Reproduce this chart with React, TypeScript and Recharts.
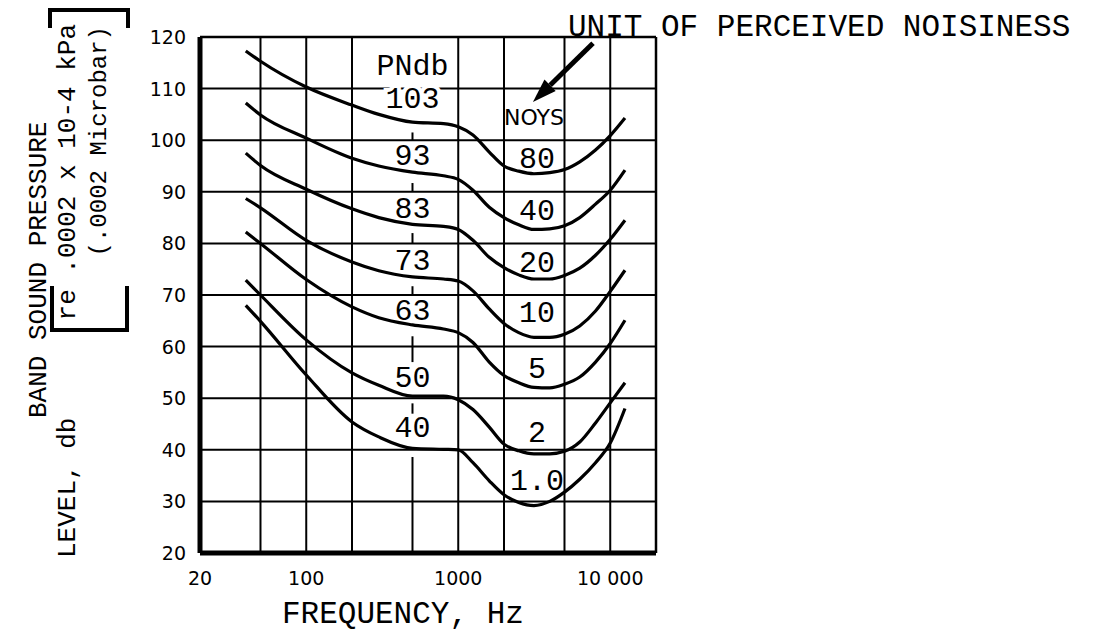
import React from "react";
import { LineChart, Line, XAxis, YAxis, CartesianGrid, ReferenceLine, ReferenceDot } from "recharts";

const FREQS = [40, 50, 100, 200, 300, 500, 800, 1000, 1250, 1600, 2000, 2500, 3150, 4000, 5000, 6300, 8000, 10000, 12500];

// band sound pressure level (db) for each noy contour
const NOY_80 = [117.3, 115.3, 110.3, 106.8, 105.0, 103.5, 103.2, 102.6, 101.0, 97.7, 95.0, 94.0, 93.5, 93.7, 94.3, 95.8, 98.1, 100.9, 104.3];
const NOY_40 = [107.2, 104.9, 100.4, 96.5, 95.0, 93.8, 93.1, 92.4, 90.3, 87.0, 85.0, 83.6, 82.7, 82.8, 83.4, 85.0, 87.6, 90.3, 94.2];
const NOY_20 = [97.5, 95.1, 90.5, 86.7, 85.0, 83.7, 83.3, 82.7, 80.6, 77.3, 75.3, 73.9, 73.1, 73.1, 73.8, 75.2, 77.7, 80.8, 84.5];
const NOY_10 = [88.7, 86.9, 80.6, 76.4, 74.7, 73.5, 73.1, 72.7, 70.8, 67.3, 64.5, 62.7, 61.8, 61.8, 62.4, 64.0, 66.9, 70.7, 74.8];
const NOY_5 = [82.2, 80.0, 73.0, 67.7, 65.6, 64.2, 63.4, 62.7, 60.8, 57.0, 54.4, 53.0, 52.1, 52.0, 52.7, 54.1, 57.0, 60.6, 65.1];
const NOY_2 = [72.9, 70.0, 61.3, 54.9, 52.5, 50.4, 50.4, 49.7, 47.8, 44.4, 41.1, 39.8, 39.2, 39.2, 39.7, 41.5, 45.2, 49.1, 53.0];
const NOY_1 = [68.0, 64.9, 54.5, 45.4, 42.5, 40.3, 40.1, 40.0, 37.5, 34.0, 31.3, 29.8, 29.2, 30.0, 31.8, 34.3, 37.5, 41.3, 48.0];

const SERIES = [
  { key: "n80", values: NOY_80 },
  { key: "n40", values: NOY_40 },
  { key: "n20", values: NOY_20 },
  { key: "n10", values: NOY_10 },
  { key: "n5", values: NOY_5 },
  { key: "n2", values: NOY_2 },
  { key: "n1", values: NOY_1 },
];

// curve labels
const PNDB_LABELS = ["103", "93", "83", "73", "63", "50", "40"];
const NOY_LABELS = ["80", "40", "20", "10", "5", "2", "1.0"];

// axis ticks and grid
const X_TICKS = [20, 100, 1000, 10000];
const X_TICK_LABELS = ["20", "100", "1000", "10 000"];
const Y_TICKS = [20, 30, 40, 50, 60, 70, 80, 90, 100, 110, 120];
const GRID_FREQS = [50, 100, 200, 1000, 2000, 5000, 10000];

// annotation anchors (data coordinates)
const PNDB_LABEL_AT = { f: 500, db: [106.2, 95.2, 84.9, 74.8, 65.2, 52.2, 42.5] };
const NOY_LABEL_AT = { f: 3300, db: [94.6, 84.5, 74.5, 64.8, 53.9, 41.5, 32.2] };
// leftover pieces of the 500 Hz grid line between the labels
const TICKS_500 = [[100, 101.5], [90, 91.7], [80, 82], [70, 71.7], [57, 62], [47, 49], [20, 38.6]];

const data = FREQS.map((f, i) => {
  const row: Record<string, number> = { f };
  SERIES.forEach((s) => (row[s.key] = s.values[i]));
  return row;
});

const MONO = "'Liberation Mono', 'DejaVu Sans Mono', monospace";
const SANS = "'DejaVu Sans', sans-serif";

const XTick = (props: any) => {
  const { x, y, index } = props;
  return (
    <text x={x} y={y + 24} textAnchor="middle" fontFamily={SANS} fontSize={19} fill="#000">
      {X_TICK_LABELS[index]}
    </text>
  );
};

const YTick = (props: any) => {
  const { x, y, payload } = props;
  return (
    <text x={x - 6} y={y} textAnchor="end" dominantBaseline="central" fontFamily={SANS} fontSize={19} fill="#000">
      {payload.value}
    </text>
  );
};

const textShape = (label: string, size: number, family: string, knockout = false) => (p: any) => (
  <text
    x={p.cx}
    y={p.cy}
    textAnchor="middle"
    fontFamily={family}
    fontSize={size}
    fill="#000"
    stroke={knockout ? "#fff" : "none"}
    strokeWidth={knockout ? 8 : 0}
    paintOrder="stroke"
  >
    {label}
  </text>
);

const Arrow = (p: any) => {
  const { x1, y1, x2, y2 } = p;
  const dx = x2 - x1;
  const dy = y2 - y1;
  const len = Math.sqrt(dx * dx + dy * dy);
  const ux = dx / len;
  const uy = dy / len;
  const hl = 24;
  const hw = 8;
  const bx = x2 - ux * hl;
  const by = y2 - uy * hl;
  return (
    <g>
      <line x1={x1} y1={y1} x2={bx} y2={by} stroke="#000" strokeWidth={5} />
      <polygon
        points={`${x2},${y2} ${bx - uy * hw},${by + ux * hw} ${bx + uy * hw},${by - ux * hw}`}
        fill="#000"
      />
    </g>
  );
};

export default function App() {
  return (
    <div style={{ position: "absolute", left: 0, top: 0, width: 1093, height: 640, background: "#fff" }}>
      <LineChart width={1093} height={640} data={data} margin={{ top: 37, right: 437, bottom: 47, left: 140 }}>
        <CartesianGrid vertical={false} stroke="#000" strokeWidth={2} />
        <XAxis
          dataKey="f"
          type="number"
          scale="log"
          domain={[20, 20000]}
          ticks={X_TICKS}
          interval={0}
          allowDataOverflow
          tickLine={false}
          axisLine={{ stroke: "#000", strokeWidth: 5 }}
          tick={<XTick />}
          height={40}
        />
        <YAxis
          type="number"
          domain={[20, 120]}
          ticks={Y_TICKS}
          interval={0}
          tickLine={false}
          axisLine={{ stroke: "#000", strokeWidth: 5 }}
          tick={<YTick />}
          width={60}
        />
        {GRID_FREQS.map((f) => (
          <ReferenceLine key={f} x={f} stroke="#000" strokeWidth={2} />
        ))}
        {TICKS_500.map(([a, b], i) => (
          <ReferenceLine key={"t" + i} segment={[{ x: 500, y: a }, { x: 500, y: b }]} stroke="#000" strokeWidth={2} />
        ))}
        <ReferenceLine y={120} stroke="#000" strokeWidth={2.5} />
        <ReferenceLine x={20000} stroke="#000" strokeWidth={2.5} />
        {SERIES.map((s) => (
          <Line
            key={s.key}
            dataKey={s.key}
            type="monotone"
            stroke="#000"
            strokeWidth={3.2}
            dot={false}
            activeDot={false}
            isAnimationActive={false}
          />
        ))}
        <ReferenceDot x={500} y={112.6} r={0} shape={textShape("PNdb", 30, MONO)} />
        {PNDB_LABELS.map((t, i) => (
          <ReferenceDot
            key={"p" + t}
            x={PNDB_LABEL_AT.f}
            y={PNDB_LABEL_AT.db[i]}
            r={0}
            shape={textShape(t, 30, MONO, i === 0)}
          />
        ))}
        <ReferenceDot x={3150} y={103} r={0} shape={textShape("NOYS", 22, SANS)} />
        {NOY_LABELS.map((t, i) => (
          <ReferenceDot key={"n" + t} x={NOY_LABEL_AT.f} y={NOY_LABEL_AT.db[i]} r={0} shape={textShape(t, 30, MONO)} />
        ))}
        <ReferenceLine segment={[{ x: 7700, y: 118.8 }, { x: 3100, y: 107.4 }]} shape={<Arrow />} />
      </LineChart>

      <svg
        width={1093}
        height={640}
        style={{ position: "absolute", left: 0, top: 0, pointerEvents: "none" }}
        fontFamily={MONO}
        fill="#000"
      >
        <text x={568} y={36} fontSize={31}>UNIT OF PERCEIVED NOISINESS</text>
        <text x={282} y={623} fontSize={31}>FREQUENCY, Hz</text>
        <text transform="translate(46,418) rotate(-90)" fontSize={26}>BAND SOUND PRESSURE</text>
        <text transform="translate(75,558) rotate(-90)" fontSize={26}>LEVEL, db</text>
        <text transform="translate(75,24) rotate(-90)" fontSize={26} textAnchor="end">re .0002 x 10-4 kPa</text>
        <text transform="translate(106,26) rotate(-90)" fontSize={24} textAnchor="end">(.0002 Microbar)</text>
        <path d="M52,286 L52,330 L127,330 L127,286" fill="none" stroke="#000" strokeWidth={4} />
        <path d="M50,28 L50,10 L128,10 L128,28" fill="none" stroke="#000" strokeWidth={4} />
      </svg>
    </div>
  );
}
